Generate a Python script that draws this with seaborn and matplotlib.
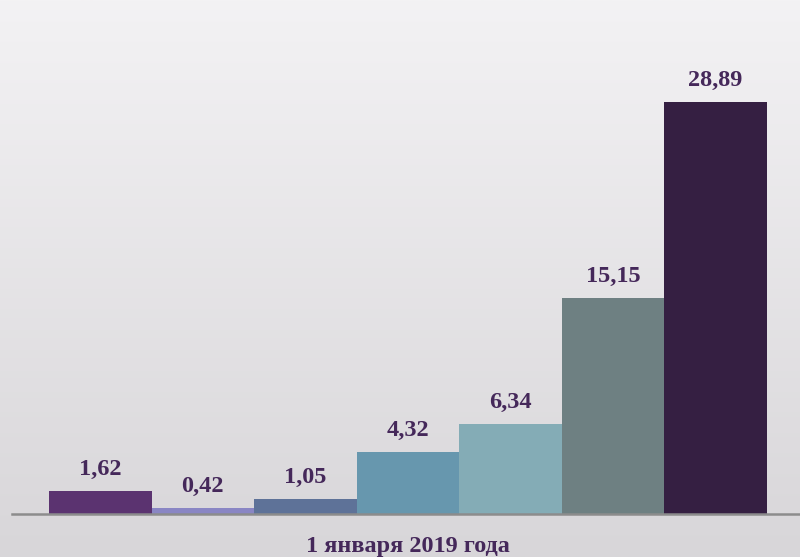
import numpy as np
import pandas as pd
import matplotlib
matplotlib.use("Agg")
import matplotlib.pyplot as plt
import seaborn as sns

category = ["1 января 2019 года"]
series = ["s1", "s2", "s3", "s4", "s5", "s6", "s7"]
values = [1.62, 0.42, 1.05, 4.32, 6.34, 15.15, 28.89]
labels = ["1,62", "0,42", "1,05", "4,32", "6,34", "15,15", "28,89"]
colors = ["#5B3370", "#8A86C4", "#5E7298", "#6797AE", "#84ACB6", "#6E8082", "#351F42"]

df = pd.DataFrame({"cat": category * len(series), "series": series, "value": values})

sns.set_theme(style="white")
plt.rcParams["font.family"] = ["Liberation Serif", "DejaVu Serif"]

W, H = 800, 557
fig = plt.figure(figsize=(W / 100, H / 100), dpi=100)

# gradient background
bg = fig.add_axes([0, 0, 1, 1], zorder=-10)
grad = np.linspace(0, 1, 256)[:, None]
top = np.array([0xF3, 0xF2, 0xF4]) / 255
bot = np.array([0xD8, 0xD6, 0xD9]) / 255
img = top[None, None, :] * (1 - grad[:, :, None]) + bot[None, None, :] * grad[:, :, None]
bg.imshow(img, aspect="auto", extent=[0, 1, 0, 1])
bg.axis("off")

ax_bottom = 1 - 514 / H
ax = fig.add_axes([12 / W, ax_bottom, (800 - 12) / W, 1 - ax_bottom])
ax.patch.set_alpha(0)

sns.barplot(data=df, x="cat", y="value", hue="series", palette=colors,
            width=1.0, dodge=True, ax=ax, legend=False, saturation=1,
            linewidth=0, edgecolor="none")

ax.set_xlim(-0.5515, 0.546)
ax.set_ylim(0, 514 / (412 / 28.89))

for cont, lab in zip(ax.containers, labels):
    ax.bar_label(cont, labels=[lab], padding=8, fontsize=17.5, fontweight="bold",
                 color="#45285A")

for s in ["top", "right", "left"]:
    ax.spines[s].set_visible(False)
ax.spines["bottom"].set_color("#8C8C8C")
ax.spines["bottom"].set_linewidth(1.8)
ax.set_yticks([])
ax.set_xlabel("")
ax.set_ylabel("")
ax.tick_params(axis="x", length=0, pad=16)
for t in ax.get_xticklabels():
    t.set_fontsize(17.5)
    t.set_fontweight("bold")
    t.set_color("#45285A")

fig.savefig("out.png", dpi=100)
